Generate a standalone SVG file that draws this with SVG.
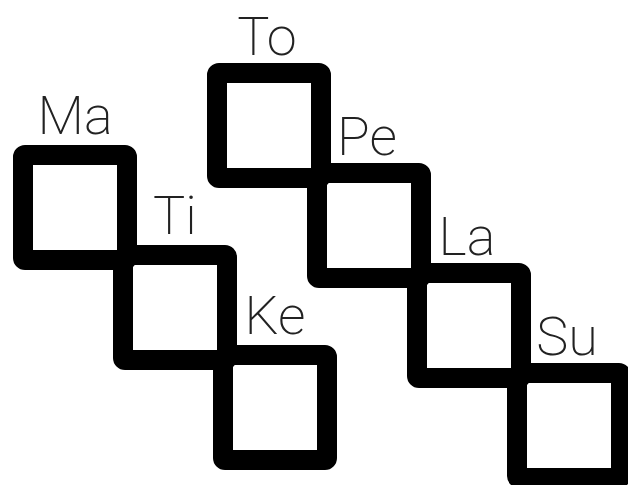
<svg xmlns="http://www.w3.org/2000/svg" width="628" height="485" viewBox="0 0 628 485">
<style>
.box{fill:#fff;stroke:#000;stroke-width:20;stroke-linejoin:round}
.lbl{font-family:Roboto,"Liberation Sans",sans-serif;font-weight:200;font-size:54px;fill:#222;text-anchor:middle}
</style>
<rect width="628" height="485" fill="#fff"/>
<g id="connectors"></g>
<g id="Su"><rect class="box" x="517" y="373" width="104" height="105" rx="2"/><text class="lbl" x="567" y="355">Su</text></g>
<g id="La"><rect class="box" x="417" y="273" width="104" height="105" rx="2"/><text class="lbl" x="467" y="255">La</text></g>
<g id="Pe"><rect class="box" x="317" y="173" width="104" height="105" rx="2"/><text class="lbl" x="367" y="155">Pe</text></g>
<g id="To"><rect class="box" x="217" y="73" width="104" height="105" rx="2"/><text class="lbl" x="267" y="55">To</text></g>
<g id="Ke"><rect class="box" x="223" y="355" width="104" height="105" rx="2"/><text class="lbl" x="275" y="334">Ke</text></g>
<g id="Ti"><rect class="box" x="123" y="255" width="104" height="105" rx="2"/><text class="lbl" x="175" y="234">Ti</text></g>
<g id="Ma"><rect class="box" x="23" y="155" width="104" height="105" rx="2"/><text class="lbl" x="75" y="134">Ma</text></g>
</svg>
